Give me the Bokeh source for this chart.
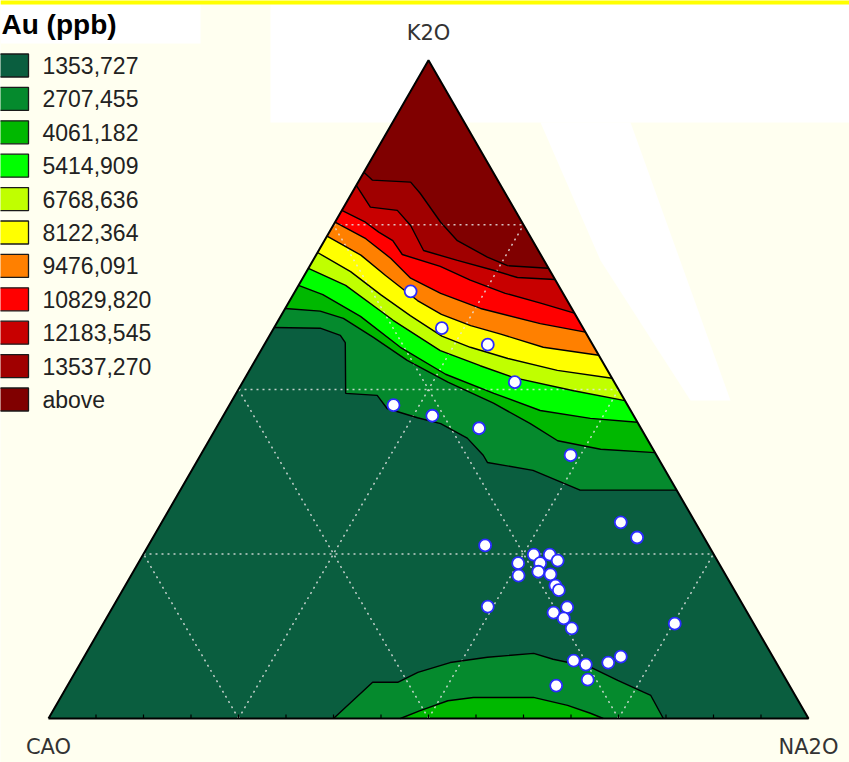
import math
from bokeh.plotting import figure
from bokeh.models import Range1d
from bokeh.embed import file_html
from bokeh.resources import INLINE
from bokeh.core.properties import value

# ---------------- data ----------------
title_text = "Au (ppb)"
legend_labels = ["1353,727", "2707,455", "4061,182", "5414,909", "6768,636",
                 "8122,364", "9476,091", "10829,820", "12183,545", "13537,270", "above"]
band_colors = ["#0A5E3F", "#058A2D", "#00B800", "#00FF00", "#C0FF00",
               "#FFFF00", "#FF8000", "#FF0000", "#C80000", "#A00000", "#800000"]
vertex_labels = ["CAO", "NA2O", "K2O"]

# contour boundaries, (K2O %, Na2O %), from the CaO-K2O side to the Na2O-K2O side
c1353 = [(59.4, 0.0), (59.3, 6.1), (58.2, 9.3), (57.1, 10.5), (49.4, 14.4), (49.1, 18.7),
         (47.1, 21.0), (45.7, 25.7), (44.8, 29.2), (42.6, 33.8), (40.0, 37.2), (38.9, 38.3),
         (37.7, 44.9), (34.7, 52.6), (34.7, 65.3)]
c2707 = [(62.3, 0.0), (61.9, 4.8), (60.8, 8.4), (57.9, 13.8), (54.4, 20.0), (51.1, 27.0),
         (47.9, 34.6), (44.8, 41.0), (42.2, 45.9), (40.9, 52.2), (40.4, 59.6)]
c4061 = [(65.8, 0.0), (64.4, 3.9), (61.1, 10.5), (56.4, 18.1), (52.3, 26.1), (49.4, 33.9),
         (46.8, 41.3), (45.6, 48.5), (45.0, 55.0)]
c5415 = [(68.4, 0.0), (65.8, 6.2), (60.5, 15.1), (55.9, 23.6), (53.6, 30.0), (51.8, 35.3),
         (49.8, 44.2), (48.3, 51.7)]
c6769 = [(70.8, 0.0), (67.9, 5.8), (64.4, 11.5), (61.2, 17.0), (58.1, 22.7), (56.4, 27.3),
         (54.7, 33.1), (52.9, 40.5), (51.7, 48.3)]
c8122 = [(73.3, 0.0), (70.4, 5.9), (67.3, 10.7), (63.5, 16.8), (61.4, 21.0), (59.7, 25.7),
         (58.4, 30.3), (56.4, 36.9), (55.2, 44.8)]
c9476 = [(75.4, 0.0), (72.9, 5.3), (69.9, 10.1), (66.9, 14.2), (64.6, 19.3), (62.3, 25.7),
         (60.0, 34.7), (58.7, 41.3)]
c10830 = [(77.2, 0.0), (75.4, 4.0), (73.9, 6.5), (72.6, 9.0), (70.5, 11.3), (68.7, 17.2),
          (66.6, 22.2), (64.6, 27.8), (63.1, 33.2), (61.6, 38.4)]
c12184 = [(81.0, 0.0), (77.7, 3.5), (77.2, 7.3), (74.9, 10.2), (71.1, 13.8), (69.6, 19.0),
          (68.1, 24.5), (67.0, 28.2), (66.7, 33.3)]
c13537 = [(83.0, 0.0), (81.8, 1.7), (81.5, 6.9), (79.8, 9.0), (75.4, 13.9), (72.6, 17.5),
          (70.1, 22.7), (68.8, 26.0), (68.4, 31.6)]
# closed lobes on the CaO-Na2O side
b1353 = [(0.0, 37.5), (5.5, 39.9), (5.5, 43.2), (7.0, 45.1), (8.5, 48.6), (9.3, 53.1),
         (9.9, 58.9), (9.0, 61.9), (7.8, 67.4), (5.8, 72.0), (4.0, 76.3), (3.5, 77.5), (0.0, 80.9)]
b2707 = [(0.0, 46.3), (1.2, 48.3), (2.7, 51.2), (3.2, 54.3), (3.2, 62.2), (2.0, 67.3),
         (0.8, 70.9), (0.0, 73.0)]

# samples
pts_k2o = [64.9, 59.3, 56.8, 51.1, 47.6, 46.0, 44.1, 40.0, 29.8, 27.5, 26.3, 24.9, 24.9,
           24.0, 23.6, 23.6, 21.7, 22.3, 21.9, 20.2, 19.5, 17.0, 16.9, 16.1, 15.2, 13.7,
           14.4, 8.8, 8.2, 8.5, 9.4, 5.9, 5.0]
pts_na2o = [15.2, 22.1, 29.4, 35.8, 21.6, 27.5, 34.6, 48.7, 60.4, 63.7, 44.3, 51.4, 53.5,
            55.0, 50.0, 52.9, 51.0, 53.3, 55.1, 56.6, 57.4, 49.3, 59.8, 58.4, 60.2, 62.0,
            75.2, 64.7, 66.6, 69.4, 70.6, 68.0, 64.3]

grid_pcts = [25, 50, 75]
base_ticks = [6.25, 12.5, 18.75, 25, 31.25, 37.5, 43.75, 50, 56.25, 62.5, 68.75, 75,
              81.25, 87.5, 93.75]

# ---------------- helpers ----------------
S3 = math.sqrt(3) / 2


def tern(k, na):
    return na / 100.0 + k / 200.0, k / 100.0 * S3


def curve_xy(pts):
    xs, ys = [], []
    for k, na in pts:
        x, y = tern(k, na)
        xs.append(x)
        ys.append(y)
    return xs, ys


# layout: pixel position in the picture -> plot units (760 px per unit)
def LX(sx):
    return (sx - 48) / 760.0


def LY(sy):
    return (718 - sy) / 760.0


PX = 1 / 760.0
W, H = 849, 762

p = figure(width=W, height=H, output_backend="svg", toolbar_location=None,
           x_range=Range1d(start=LX(0), end=LX(W)),
           y_range=Range1d(start=LY(H), end=LY(0)),
           x_axis_type=None, y_axis_type=None, min_border=0)
p.outline_line_color = None
p.background_fill_color = "#FFFFF0"
p.border_fill_color = "#FFFFF0"

# background patches
p.quad(left=[LX(0), LX(270)], right=[LX(200), LX(870)], top=[LY(4), LY(4)],
       bottom=[LY(43), LY(122)], fill_color="white", line_color=None)
p.patch([LX(540), LX(630), LX(730), LX(690), LX(600)],
        [LY(122), LY(122), LY(400), LY(400), LY(260)], fill_color="white", line_color=None)
p.quad(left=LX(0), right=LX(870), top=LY(-2), bottom=LY(4), fill_color="#FFFF00", line_color=None)

# filled contour bands
tri = [(0.0, 0.0), (0.0, 100.0), (100.0, 0.0)]
tx, ty = curve_xy(tri)
p.patch(tx, ty, fill_color=band_colors[0], line_color=None)

upper = [c1353, c2707, c4061, c5415, c6769, c8122, c9476, c10830, c12184, c13537]
for i, c in enumerate(upper):
    xs, ys = curve_xy(c + [(100.0, 0.0)])
    p.patch(xs, ys, fill_color=band_colors[i + 1], line_color=None)

lower = [b1353, b2707]
for i, c in enumerate(lower):
    xs, ys = curve_xy(c)
    p.patch(xs, ys, fill_color=band_colors[i + 1], line_color=None)

# dotted grid
gxs, gys = [], []
for g in grid_pcts:
    for a, b in [((g, 0.0), (g, 100.0 - g)),
                 ((0.0, g), (100.0 - g, g)),
                 ((0.0, 100.0 - g), (100.0 - g, 0.0))]:
        x0, y0 = tern(*a)
        x1, y1 = tern(*b)
        gxs.append([x0, x1])
        gys.append([y0, y1])
p.multi_line(gxs, gys, line_color="#E4E4E4", line_alpha=0.85, line_width=1.5, line_dash="2 4")

# contour lines
lxs, lys = [], []
for c in upper + lower:
    xs, ys = curve_xy(c)
    lxs.append(xs)
    lys.append(ys)
p.multi_line(lxs, lys, line_color="black", line_width=1.4)

# triangle outline and base ticks
p.line(tx + [tx[0]], ty + [ty[0]], line_color="black", line_width=2)
kx = [[tern(0, t)[0]] * 2 for t in base_ticks]
ky = [[0.0, 4 * PX] for _ in base_ticks]
p.multi_line(kx, ky, line_color="black", line_width=1.2)

# samples
sx, sy = curve_xy(list(zip(pts_k2o, pts_na2o)))
p.scatter(sx, sy, size=12, fill_color="white", line_color="#2B2BFF", line_width=1.8)

# vertex labels
vx = [tern(0, 0)[0], tern(0, 100)[0], tern(100, 0)[0]]
vy = [-28 * PX, -28 * PX, tern(100, 0)[1] + 27 * PX]
p.text(vx, vy, text=vertex_labels, text_font=value("DejaVu Sans"), text_font_size="21px",
       text_align="center", text_baseline="middle", text_color="#333333")

# legend
n = len(legend_labels)
cy = [LY(65 + 33.4 * i) for i in range(n)]
p.quad(left=[LX(-6)] * n, right=[LX(28)] * n,
       top=[c + 11.5 * PX for c in cy], bottom=[c - 11.5 * PX for c in cy],
       fill_color=band_colors, line_color="#1A1A1A", line_width=1.3)
p.text([LX(42)] * n, cy, text=legend_labels, text_font=value("Liberation Sans"),
       text_font_size="23px", text_baseline="middle", text_color="#222222")
p.text([LX(1)], [LY(24)], text=[title_text], text_font=value("Liberation Sans"),
       text_font_size="28px", text_font_style="bold", text_baseline="middle",
       text_color="black")

open("out.html", "w").write(file_html(p, INLINE, "Au (ppb)"))
